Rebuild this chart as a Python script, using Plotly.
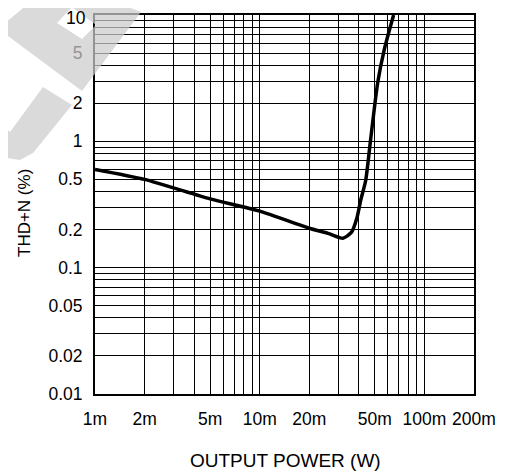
import plotly.graph_objects as go
import math

# ---- data ----
power_w = [0.001, 0.002, 0.005, 0.01, 0.02, 0.026, 0.032, 0.036, 0.039, 0.041,
           0.044, 0.047, 0.052, 0.057, 0.065]
thd_pct = [0.60, 0.50, 0.35, 0.28, 0.205, 0.187, 0.171, 0.19, 0.25, 0.34,
           0.49, 1.0, 2.9, 5.3, 10.0]

x_tickvals = [0.001, 0.002, 0.005, 0.01, 0.02, 0.05, 0.1, 0.2]
x_ticktext = ["1m", "2m", "5m", "10m", "20m", "50m", "100m", "200m"]
x_minor = [0.003, 0.004, 0.006, 0.007, 0.008, 0.009,
           0.03, 0.04, 0.06, 0.07, 0.08, 0.09]

y_tickvals = [0.01, 0.02, 0.05, 0.1, 0.2, 0.5, 1, 2, 5, 10]
y_ticktext = ["0.01", "0.02", "0.05", "0.1", "0.2", "0.5", "1", "2", "5", "10"]
y_minor = [0.03, 0.04, 0.06, 0.07, 0.08, 0.09,
           0.3, 0.4, 0.6, 0.7, 0.8, 0.9,
           3, 4, 6, 7, 8, 9]

x_title = "OUTPUT POWER (W)"
y_title = "THD+N (%)"

# page is 514x474; the html body adds an 8px margin, so the figure is
# drawn 8px smaller and every page pixel position is shifted by -8
OFF = 8
W, H = 514 - OFF, 474 - OFF
ML, MR, MT, MB = 95 - OFF, 40, 15 - OFF, 80
FONT = "Liberation Sans, Arial, sans-serif"
TICK_SIZE = 17.5

fig = go.Figure()
fig.add_trace(go.Scatter(
    x=power_w, y=thd_pct, mode="lines",
    line=dict(color="black", width=3.5, shape="spline", smoothing=0.6),
    showlegend=False, hoverinfo="skip"))

axis_common = dict(
    type="log", showline=True, linecolor="black", linewidth=2, mirror=True,
    showgrid=True, gridcolor="black", gridwidth=1.2, zeroline=False,
    ticks="", automargin=False, ticklabeloverflow="allow",
    tickfont=dict(family=FONT, size=TICK_SIZE, color="black"),
)

fig.update_xaxes(
    **axis_common,
    range=[math.log10(0.001), math.log10(0.2)],
    tickmode="array", tickvals=x_tickvals, ticktext=x_ticktext,
    ticklabelstandoff=8,
    minor=dict(tickmode="array", tickvals=x_minor, showgrid=True,
               gridcolor="black", gridwidth=1.2, ticks=""),
)

# the top label sits at the very edge of the figure; it is drawn as an
# annotation nudged slightly down (as in the reference) so it is not clipped
top_label = y_ticktext[-1]
y_ticktext_axis = y_ticktext[:-1] + [""]
fig.update_yaxes(
    **axis_common,
    range=[-2, 1],
    tickmode="array", tickvals=y_tickvals, ticktext=y_ticktext_axis,
    ticklabelstandoff=7,
    minor=dict(tickmode="array", tickvals=y_minor, showgrid=True,
               gridcolor="black", gridwidth=1.2, ticks=""),
)

pw = W - ML - MR
ph = H - MT - MB


def to_paper(px, py):
    """page pixel -> paper coordinates"""
    fx, fy = px - OFF, py - OFF
    return (fx - ML) / pw, (H - MB - fy) / ph


fig.add_annotation(text=top_label, xref="paper", yref="y",
                   x=to_paper(88, 0)[0], y=math.log10(y_tickvals[-1]),
                   xanchor="right", yanchor="middle", yshift=-3,
                   showarrow=False,
                   font=dict(family=FONT, size=TICK_SIZE, color="black"))

# axis titles placed as text annotations
tx, ty = to_paper(285, 460)
fig.add_annotation(text=x_title, xref="paper", yref="paper", x=tx, y=ty,
                   xanchor="center", yanchor="middle", showarrow=False,
                   font=dict(family=FONT, size=19, color="black"))
tx, ty = to_paper(24, 213)
fig.add_annotation(text=y_title, xref="paper", yref="paper", x=tx, y=ty,
                   xanchor="center", yanchor="middle", showarrow=False,
                   textangle=-90,
                   font=dict(family=FONT, size=17, color="black"))


# ---- decorative watermark fragments (pixel outline -> paper coords) ----
def path_from(points):
    pts = [to_paper(x, y) for x, y in points]
    return "M " + " L ".join(f"{x:.4f},{y:.4f}" for x, y in pts) + " Z"


wm1_outer = [(33, 0), (110, 0), (141, 12), (82, 91), (0, 30), (0, 27)]
wm1_notch = [(57, 23), (72, 7), (96, 25), (82, 39)]
wm2 = [(43, 87), (72, 105), (33, 153), (20, 160), (0, 157), (0, 123), (10, 132)]

wm_style = dict(type="path", xref="paper", yref="paper",
                fillcolor="rgb(204,204,204)", opacity=0.72,
                line=dict(width=0), layer="above")
fig.add_shape(path=path_from(wm1_outer) + " " + path_from(wm1_notch),
              fillrule="evenodd", **wm_style)
fig.add_shape(path=path_from(wm2), **wm_style)

fig.update_layout(
    width=W, height=H,
    margin=dict(l=ML, r=MR, t=MT, b=MB),
    plot_bgcolor="white", paper_bgcolor="white",
    font=dict(family=FONT, color="black"),
)

fig.write_html("out.html")
